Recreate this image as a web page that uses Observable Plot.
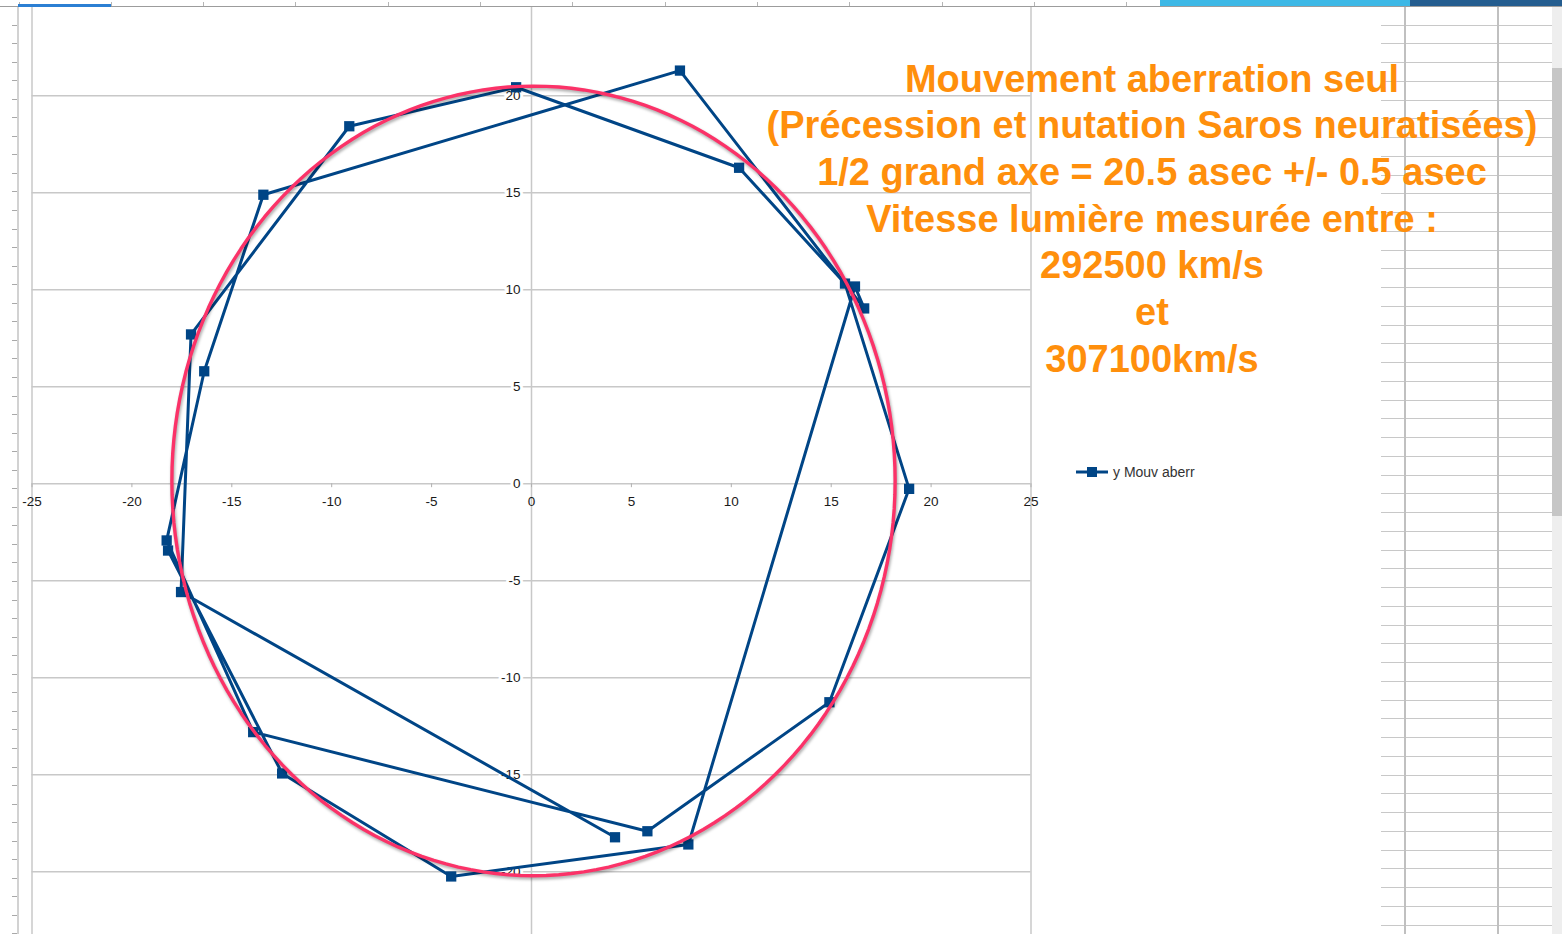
<!DOCTYPE html>
<html>
<head>
<meta charset="utf-8">
<script src="https://cdn.jsdelivr.net/npm/d3@7"></script>
<script src="https://cdn.jsdelivr.net/npm/@observablehq/plot@0.6"></script>
<style>
  html, body { margin: 0; padding: 0; background: #fff; width: 1562px; height: 934px; overflow: hidden; }
  #wrap { position: relative; width: 1562px; height: 934px; font-family: "Liberation Sans", Arial, sans-serif; }
  #chart { position: absolute; left: 0; top: 0; z-index: 0; }
  .decor { position: absolute; z-index: 1; pointer-events: none; }
  #topline { left: 0; top: 6px; width: 1562px; height: 1px; background: #9c9c9c; }
  #topticks { left: 0; top: 2px; width: 1381px; height: 5px;
    background: repeating-linear-gradient(to right, transparent 0 18.5px, #b5b5b5 18.5px 19.5px, transparent 19.5px 92.3px); }
  #tabblue { left: 18px; top: 4px; width: 93px; height: 3px; background: #2b7fd3; }
  #barlight { left: 1160px; top: 0; width: 250px; height: 6px; background: #3db8e6; }
  #bardark { left: 1410px; top: 0; width: 152px; height: 6px; background: #245d8f; }
  #leftline { left: 17px; top: 7px; width: 2px; height: 927px; background: #d2d2d2; }
  #leftticks { left: 12px; top: 7px; width: 5px; height: 927px;
    background: repeating-linear-gradient(to bottom, transparent 0 17.55px, #a9a9a9 17.55px 18.55px); }
  #cells { left: 1381px; top: 7px; width: 171px; height: 927px;
    background: repeating-linear-gradient(to bottom, transparent 0 17.55px, #c8c8c8 17.55px 18.75px); }
  #cellv1 { left: 1404px; top: 7px; width: 1.5px; height: 927px; background: #c0c0c0; }
  #cellv2 { left: 1497px; top: 7px; width: 1.5px; height: 927px; background: #c0c0c0; }
  #scroll { left: 1552px; top: 7px; width: 10px; height: 927px; background: #eeeeee; }
  #thumb { left: 1552px; top: 68px; width: 10px; height: 448px; background: #c6c6c6; }
  #title { position: absolute; z-index: 2; left: 702px; width: 900px; top: 55.5px;
    text-align: center; color: #ff8f0c; font-weight: bold; font-size: 38px; line-height: 46.67px;
    font-family: "Liberation Sans", Arial, sans-serif; white-space: nowrap; }
  #legend { position: absolute; z-index: 2; left: 1075px; top: 464px; display: flex; align-items: center;
    font-size: 14px; color: #333; font-family: "Liberation Sans", Arial, sans-serif; }
  #legend svg { margin-right: 4px; }
</style>
</head>
<body>
<div id="wrap">
  <div id="chart"></div>
  <div class="decor" id="leftline"></div>
  <div class="decor" id="leftticks"></div>
  <div class="decor" id="cells"></div>
  <div class="decor" id="cellv1"></div>
  <div class="decor" id="cellv2"></div>
  <div class="decor" id="scroll"></div>
  <div class="decor" id="thumb"></div>
  <div class="decor" id="topticks"></div>
  <div class="decor" id="topline"></div>
  <div class="decor" id="tabblue"></div>
  <div class="decor" id="barlight"></div>
  <div class="decor" id="bardark"></div>
  <div id="title"></div>
  <div id="legend"></div>
</div>
<script>
// ---- Data ----
const seriesName = "y Mouv aberr";
const pointX = [4.18, -17.54, -17.04, -9.12, -0.77, 10.39, 15.69, 18.90, 14.91, 5.80, -13.93,
                -18.26, -16.38, -13.42, 7.43, 16.65, 16.19, 7.85, -4.02, -12.48, -18.19];
const pointY = [-18.22, -5.58, 7.70, 18.43, 20.44, 16.29, 10.32, -0.26, -11.26, -17.91, -12.80,
                -2.92, 5.80, 14.90, 21.30, 9.04, 10.17, -18.59, -20.24, -14.93, -3.44];
const xTicks = [-25, -20, -15, -10, -5, 0, 5, 10, 15, 20, 25];
const yTicks = [-20, -15, -10, -5, 0, 5, 10, 15, 20];
// fitted ellipse drawn over the data (centre and semi-axes, in arcseconds)
const ellipseCenter = [0.1, 0.15];
const ellipseSemiAxes = [18.1, 20.35];
const titleLines = [
  "Mouvement aberration seul",
  "(Précession et nutation Saros neuratisées)",
  "1/2 grand axe = 20.5 asec +/- 0.5 asec",
  "Vitesse lumière mesurée entre :",
  "292500 km/s",
  "et",
  "307100km/s"
];

// ---- Build tables ----
const points = pointX.map((x, i) => ({x, y: pointY[i]}));
const ellipseOutline = d3.range(0, 360, 2).map(deg => {
  const t = deg * Math.PI / 180;
  return {x: ellipseCenter[0] + ellipseSemiAxes[0] * Math.cos(t),
          y: ellipseCenter[1] + ellipseSemiAxes[1] * Math.sin(t)};
});

const gridColor = "#c8c8c8";
const seriesColor = "#004586";

const chart = Plot.plot({
  width: 1562,
  height: 934,
  marginTop: 0, marginRight: 0, marginBottom: 0, marginLeft: 0,
  style: {background: "transparent", fontFamily: "'Liberation Sans', Arial, sans-serif", fontSize: "13px", overflow: "visible"},
  x: {domain: [-25, 25], range: [31.5, 1030.5], axis: null},
  y: {domain: [-20, 20], range: [871.3, 95.3], axis: null},
  marks: [
    Plot.ruleY(yTicks, {x1: -25, x2: 25, stroke: gridColor, strokeWidth: 1.5}),
    Plot.ruleX([-25, 0, 25], {y1: -23.3, y2: 24.56, stroke: gridColor, strokeWidth: 1.5}),
    Plot.ruleX(xTicks, {y1: 0, y2: -0.2, stroke: "#b0b0b0", strokeWidth: 1}),
    Plot.text(xTicks, {x: d => d, y: 0, dy: 17.7, text: d => String(d), fill: "#1a1a1a", fontSize: 13.5}),
    Plot.text(yTicks, {x: 0, y: d => d, dx: -11, textAnchor: "end", text: d => String(d),
      fill: "#1a1a1a", fontSize: 13.5, stroke: "white", strokeWidth: 6}),
    Plot.line(points, {x: "x", y: "y", stroke: seriesColor, strokeWidth: 3, strokeLinejoin: "miter"}),
    Plot.dot(points, {x: "x", y: "y", symbol: "square", r: 5.8, fill: seriesColor, stroke: null}),
    Plot.line(ellipseOutline, {x: "x", y: "y", curve: "linear-closed", stroke: "#fb3268", strokeWidth: 3.4,
      ariaDescription: "fit-ellipse"})
  ]
});
document.getElementById("chart").appendChild(chart);
d3.select(chart).selectAll('g[aria-description="fit-ellipse"] path')
  .style("filter", "drop-shadow(1.5px 2px 1.5px rgba(0,0,0,0.35))");

// ---- Title block ----
const title = document.getElementById("title");
titleLines.forEach(t => { const d = document.createElement("div"); d.textContent = t; title.appendChild(d); });

// ---- Legend ----
const legend = d3.select("#legend");
const sw = legend.append("svg").attr("width", 34).attr("height", 14);
sw.append("line").attr("x1", 1).attr("x2", 33).attr("y1", 7).attr("y2", 7)
  .attr("stroke", seriesColor).attr("stroke-width", 3);
sw.append("rect").attr("x", 12).attr("y", 2).attr("width", 10).attr("height", 10).attr("fill", seriesColor);
legend.append("span").text(seriesName);
</script>
</body>
</html>
